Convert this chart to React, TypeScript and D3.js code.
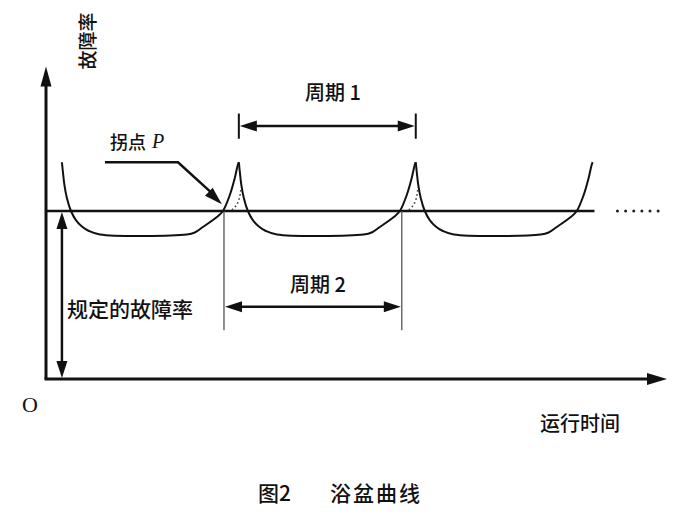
import React from 'react';
import * as d3 from 'd3';

const W = 686;
const H = 517;

// Time in "units" (one period = 10), failure rate in units of the specified rate (= 1)
const timeMax = 35.1;
const rateMax = 1.86;

// Start time of each bathtub cycle
const cycleStarts = [0.9, 10.9, 20.9];
// One bathtub profile (relative time, failure rate)
const profileTime = [0, 0.056, 0.14, 0.28, 0.51, 0.79, 1.13, 1.53, 2.15, 7.06, 7.51, 7.97, 8.76, 9.1, 9.49, 9.77, 9.94, 10];
const profileRate = [1.29, 1.232, 1.155, 1.077, 1.0, 0.946, 0.908, 0.881, 0.86, 0.86, 0.872, 0.905, 0.964, 1.0, 1.095, 1.196, 1.274, 1.29];

const specifiedRate = 1;
const specifiedEnd = 31;

// Period 1: cusp to cusp
const period1 = [10.9, 20.9];
const period1Rate = 1.506;
const period1Bar = [1.43, 1.58];
// Period 2: inflection to inflection
const period2 = [10.06, 20.11];
const period2Rate = 0.43;
const period2GuideLow = 0.29;

// Specified-rate double arrow
const specArrowTime = 0.9;

// Inflection point pointer
const pointerTime = [3.33, 7.46, 9.94];
const pointerRate = [1.29, 1.29, 1.04];

// Dotted hatch inside each cusp (relative to cusp)
const cuspTimes = [10.9, 20.9];
const hatchTime = [-0.39, -0.11, 0.06, 0.11];
const hatchRate = [1.006, 1.036, 1.083, 1.125];

// Ellipsis dots
const dotsTime = [32.3, 32.76, 33.22, 33.68, 34.14, 34.6];

const labels = {
  yAxis: '故障率',
  xAxis: '运行时间',
  origin: 'O',
  inflection: '拐点',
  inflectionP: 'P',
  period1: '周期 1',
  period2: '周期 2',
  specified: '规定的故障率',
  figNo: '图2',
  caption: '浴盆曲线',
};

const CJK = '"Noto Sans CJK SC", "Noto Sans", sans-serif';
const SERIF = '"Liberation Serif", "DejaVu Serif", serif';
const WEIGHT = 500;

function arrowHead(tipX: number, tipY: number, fromX: number, fromY: number, len: number, half: number) {
  const dx = tipX - fromX;
  const dy = tipY - fromY;
  const d = Math.hypot(dx, dy) || 1;
  const ux = dx / d;
  const uy = dy / d;
  const bx = tipX - ux * len;
  const by = tipY - uy * len;
  const px = -uy * half;
  const py = ux * half;
  return `M${tipX},${tipY}L${bx + px},${by + py}L${bx - px},${by - py}Z`;
}

export default function App() {
  const x = d3.scaleLinear().domain([0, timeMax]).range([46, 667]);
  const y = d3.scaleLinear().domain([0, rateMax]).range([379, 66.5]);

  const line = d3
    .line<[number, number]>()
    .x((d) => x(d[0]))
    .y((d) => y(d[1]))
    .curve(d3.curveCatmullRom.alpha(0.5));

  const straight = d3
    .line<[number, number]>()
    .x((d) => x(d[0]))
    .y((d) => y(d[1]));

  const curves = cycleStarts.map((s) =>
    line(profileTime.map((t, i) => [s + t, profileRate[i]] as [number, number]))
  );

  const x0 = x(0);
  const y0 = y(0);
  const yTop = y(rateMax);
  const xEnd = x(timeMax);

  const p1a = x(period1[0]);
  const p1b = x(period1[1]);
  const p1y = y(period1Rate);
  const p2a = x(period2[0]);
  const p2b = x(period2[1]);
  const p2y = y(period2Rate);

  const ptr = pointerTime.map((t, i) => [t, pointerRate[i]] as [number, number]);
  const ptrTipX = x(ptr[2][0]);
  const ptrTipY = y(ptr[2][1]);
  const ptrFromX = x(ptr[1][0]);
  const ptrFromY = y(ptr[1][1]);

  const sx = x(specArrowTime);
  const sTop = y(specifiedRate) + 1;
  const sBot = y(0) - 1;

  return (
    <svg
      width={W}
      height={H}
      viewBox={`0 0 ${W} ${H}`}
      style={{ position: 'absolute', left: 0, top: 0, background: '#fff' }}
    >
      <rect x={0} y={0} width={W} height={H} fill="#fff" />

      {/* axes */}
      <line x1={x0} y1={y0} x2={x0} y2={yTop + 14} stroke="#111" strokeWidth={3} />
      <path d={arrowHead(x0, yTop, x0, yTop + 20, 20, 5.5)} fill="#111" />
      <line x1={x0 - 1.5} y1={y0} x2={xEnd - 14} y2={y0} stroke="#111" strokeWidth={3} />
      <path d={arrowHead(xEnd, y0, xEnd - 20, y0, 20, 6)} fill="#111" />

      {/* specified failure rate line */}
      <path
        d={straight([[0, specifiedRate], [specifiedEnd, specifiedRate]]) || ''}
        stroke="#111"
        strokeWidth={2.5}
        fill="none"
      />

      {/* period 2 guide lines */}
      {period2.map((t, i) => (
        <line
          key={`g${i}`}
          x1={x(t)}
          x2={x(t)}
          y1={y(specifiedRate)}
          y2={y(period2GuideLow)}
          stroke="#555"
          strokeWidth={1.3}
        />
      ))}

      {/* bathtub curves */}
      {curves.map((d, i) => (
        <path key={`c${i}`} d={d || ''} fill="none" stroke="#111" strokeWidth={2} />
      ))}

      {/* hatch dots in the cusps */}
      {cuspTimes.map((c, i) => (
        <path
          key={`h${i}`}
          d={straight(hatchTime.map((t, j) => [c + t, hatchRate[j]] as [number, number])) || ''}
          fill="none"
          stroke="#444"
          strokeWidth={1.6}
          strokeDasharray="1.6 2.6"
        />
      ))}

      {/* period 1 arrow */}
      <line x1={p1a} x2={p1a} y1={y(period1Bar[0])} y2={y(period1Bar[1])} stroke="#111" strokeWidth={2} />
      <line x1={p1b} x2={p1b} y1={y(period1Bar[0])} y2={y(period1Bar[1])} stroke="#111" strokeWidth={2} />
      <line x1={p1a + 10} x2={p1b - 10} y1={p1y} y2={p1y} stroke="#111" strokeWidth={2.5} />
      <path d={arrowHead(p1a + 1, p1y, p1a + 20, p1y, 17, 5.5)} fill="#111" />
      <path d={arrowHead(p1b - 1, p1y, p1b - 20, p1y, 17, 5.5)} fill="#111" />

      {/* period 2 arrow */}
      <line x1={p2a + 10} x2={p2b - 10} y1={p2y} y2={p2y} stroke="#111" strokeWidth={2.5} />
      <path d={arrowHead(p2a + 1, p2y, p2a + 20, p2y, 17, 5.5)} fill="#111" />
      <path d={arrowHead(p2b - 1, p2y, p2b - 20, p2y, 17, 5.5)} fill="#111" />

      {/* specified rate double arrow */}
      <line x1={sx} x2={sx} y1={sTop + 10} y2={sBot - 10} stroke="#111" strokeWidth={2.5} />
      <path d={arrowHead(sx, sTop, sx, sTop + 20, 17, 5.5)} fill="#111" />
      <path d={arrowHead(sx, sBot, sx, sBot - 20, 17, 5.5)} fill="#111" />

      {/* inflection pointer */}
      <path
        d={straight([ptr[0], ptr[1], [ptr[2][0] - 0.5, ptr[2][1] + 0.06]]) || ''}
        fill="none"
        stroke="#111"
        strokeWidth={2.5}
      />
      <path d={arrowHead(ptrTipX, ptrTipY, ptrFromX, ptrFromY, 18, 5.5)} fill="#111" />

      {/* ellipsis */}
      {dotsTime.map((t, i) => (
        <circle key={`d${i}`} cx={x(t)} cy={y(specifiedRate)} r={1.5} fill="#222" />
      ))}

      {/* texts */}
      <text
        transform={`translate(86,41) rotate(-90)`}
        textAnchor="middle"
        dominantBaseline="central"
        fontFamily={CJK}
        fontWeight={WEIGHT}
        fontSize={19}
        fill="#111"
      >
        {labels.yAxis}
      </text>
      <text x={30} y={404} textAnchor="middle" dominantBaseline="central" fontFamily={SERIF} fontSize={22} fill="#111">
        {labels.origin}
      </text>
      <text x={110} y={141} dominantBaseline="central" fontFamily={CJK} fontWeight={WEIGHT} fontSize={18} fill="#111">
        {labels.inflection}
        <tspan dx={6} fontFamily={SERIF} fontStyle="italic" fontWeight="normal" fontSize={20}>
          {labels.inflectionP}
        </tspan>
      </text>
      <text x={333} y={91} textAnchor="middle" dominantBaseline="central" fontFamily={CJK} fontWeight={WEIGHT} fontSize={20} fill="#111">
        {labels.period1}
      </text>
      <text x={318} y={283} textAnchor="middle" dominantBaseline="central" fontFamily={CJK} fontWeight={WEIGHT} fontSize={20} fill="#111">
        {labels.period2}
      </text>
      <text x={67} y={308} dominantBaseline="central" fontFamily={CJK} fontWeight={WEIGHT} fontSize={21} fill="#111">
        {labels.specified}
      </text>
      <text x={540} y={422} dominantBaseline="central" fontFamily={CJK} fontWeight={WEIGHT} fontSize={20} fill="#111">
        {labels.xAxis}
      </text>
      <text x={258} y={492} dominantBaseline="central" fontFamily={CJK} fontWeight={WEIGHT} fontSize={21} fill="#111">
        {labels.figNo}
      </text>
      <text x={330} y={492} dominantBaseline="central" fontFamily={CJK} fontWeight={WEIGHT} fontSize={21} fill="#111" letterSpacing={2}>
        {labels.caption}
      </text>
    </svg>
  );
}
